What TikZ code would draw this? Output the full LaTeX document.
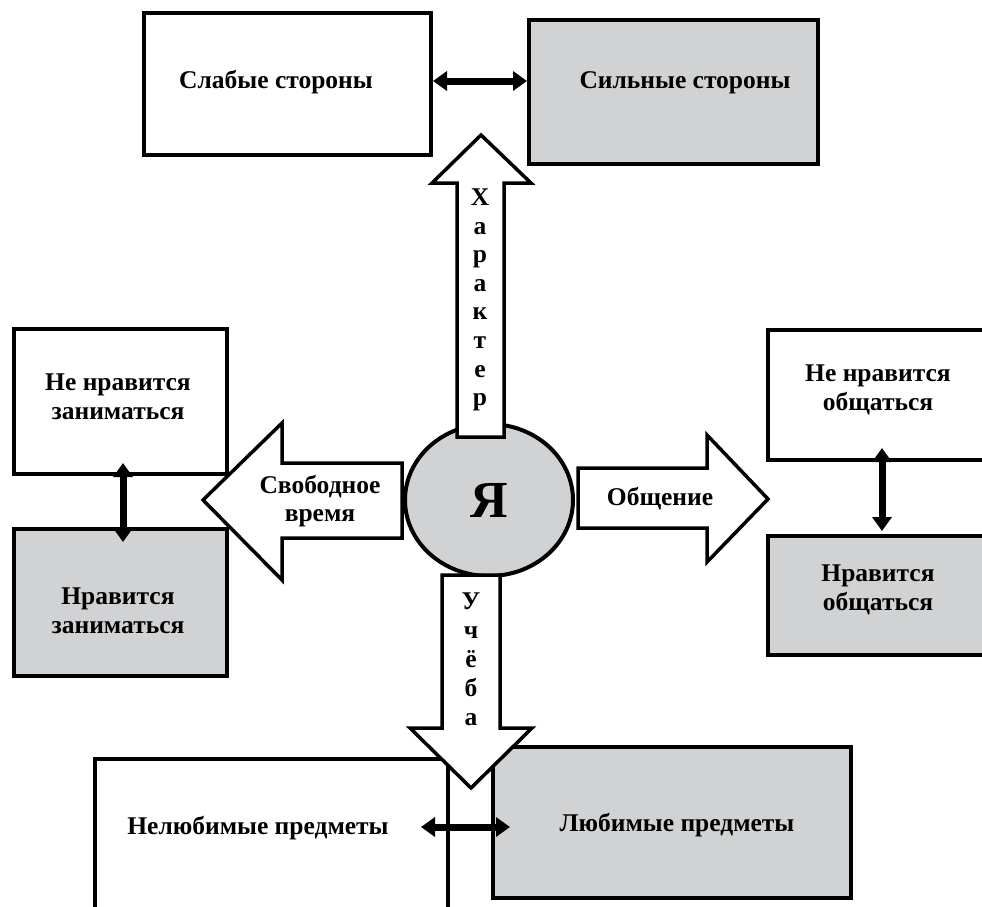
\documentclass[tikz,border=0pt]{standalone}
\usepackage{fontspec}
\setmainfont{Liberation Serif}
\usetikzlibrary{arrows.meta,shapes.geometric,calc}
\definecolor{boxgray}{HTML}{D1D2D4}
\begin{document}
\begin{tikzpicture}[x=1pt,y=-1pt,
  box/.style={draw=black, line width=4pt, fill=white, rectangle, inner sep=0pt},
  graybox/.style={box, fill=boxgray},
  blockarrow/.style={draw=black, line width=3.5pt, fill=white, line join=miter},
  lbl/.style={font=\bfseries\fontsize{25.5}{28.8}\selectfont, align=center, inner sep=0pt},
  dbl/.style={line width=7pt, {Triangle[length=14pt,width=19pt]}-{Triangle[length=14pt,width=19pt]}},
]
\useasboundingbox (0,0) rectangle (982,906);
\clip (0,0) rectangle (982,906);

% boxes
\node[box, minimum width=287pt, minimum height=142pt] (weak) at (287.5,84) {};
\node[graybox, minimum width=289pt, minimum height=144pt] (strong) at (673.5,92) {};
\node[box, minimum width=213pt, minimum height=145pt] (dislikeDo) at (120.5,401.5) {};
\node[graybox, minimum width=213pt, minimum height=147pt] (likeDo) at (120.5,602.5) {};
\node[box, minimum width=230pt, minimum height=130pt] (dislikeTalk) at (883,395) {};
\node[graybox, minimum width=230pt, minimum height=119pt] (likeTalk) at (883,595.5) {};
\node[box, minimum width=353pt, minimum height=169pt] (unloved) at (271.5,843.5) {};
\node[graybox, minimum width=358pt, minimum height=151pt] (loved) at (672,822.5) {};

% centre
\node[ellipse, draw=black, fill=boxgray, line width=4pt, minimum width=168pt, minimum height=152pt, inner sep=0pt,
  font=\bfseries\fontsize{52}{52}\selectfont] (me) at (489,500) {Я};

% block arrows
\draw[blockarrow] (457,437) -- (457,183) -- (432,183) -- (481,135) -- (531,183) -- (504,183) -- (504,437) -- cycle;
\draw[blockarrow] (402,463) -- (282,463) -- (282,423) -- (203,500) -- (282,580) -- (282,538) -- (402,538) -- cycle;
\draw[blockarrow] (578,468) -- (707,468) -- (707,435) -- (768,499) -- (707,562) -- (707,528) -- (578,528) -- cycle;
\draw[blockarrow] (442,575) -- (500,575) -- (500,728) -- (532,728) -- (471,788) -- (410,728) -- (442,728) -- cycle;

% double arrows
\coordinate (h1) at (0,81);
\coordinate (h2) at (0,827);
\draw[dbl] (weak.east |- h1) -- (strong.west |- h1);
\draw[dbl] ([xshift=2.5pt,yshift=13pt]dislikeDo.south) -- ([xshift=2.5pt,yshift=-15pt]likeDo.north);
\draw[dbl] ([xshift=-1pt,yshift=14pt]dislikeTalk.south) -- ([xshift=-1pt,yshift=3pt]likeTalk.north);
\draw[dbl] ($(unloved.east |- h2)+(-29,0)$) -- ($(loved.west |- h2)+(19,0)$);

% labels
\node[lbl] (tweak) at (276,82) {Слабые стороны};
\node[lbl] (tstrong) at (685,83) {Сильные стороны};
\node[lbl] (tdislikeDo) at (118,397) {Не нравится\\заниматься};
\node[lbl] (tlikeDo) at (118,611) {Нравится\\заниматься};
\node[lbl] (tfree) at (320,501) {Свободное\\время};
\node[lbl] (ttalk) at (660,499) {Общение};
\node[lbl] (tdislikeTalk) at (878,390) {Не нравится\\общаться};
\node[lbl] (tlikeTalk) at (878,590) {Нравится\\общаться};
\node[lbl, font=\bfseries\fontsize{25.5}{28.6}\selectfont] (tchar) at (480,300) {Х\\а\\р\\а\\к\\т\\е\\р};
\node[lbl, font=\bfseries\fontsize{25.5}{29}\selectfont] (tstudy) at (471,659) {У\\ч\\ё\\б\\а};
\node[lbl] (tunloved) at (258,828) {Нелюбимые предметы};
\node[lbl] (tloved) at (677,825) {Любимые предметы};
\end{tikzpicture}
\end{document}
